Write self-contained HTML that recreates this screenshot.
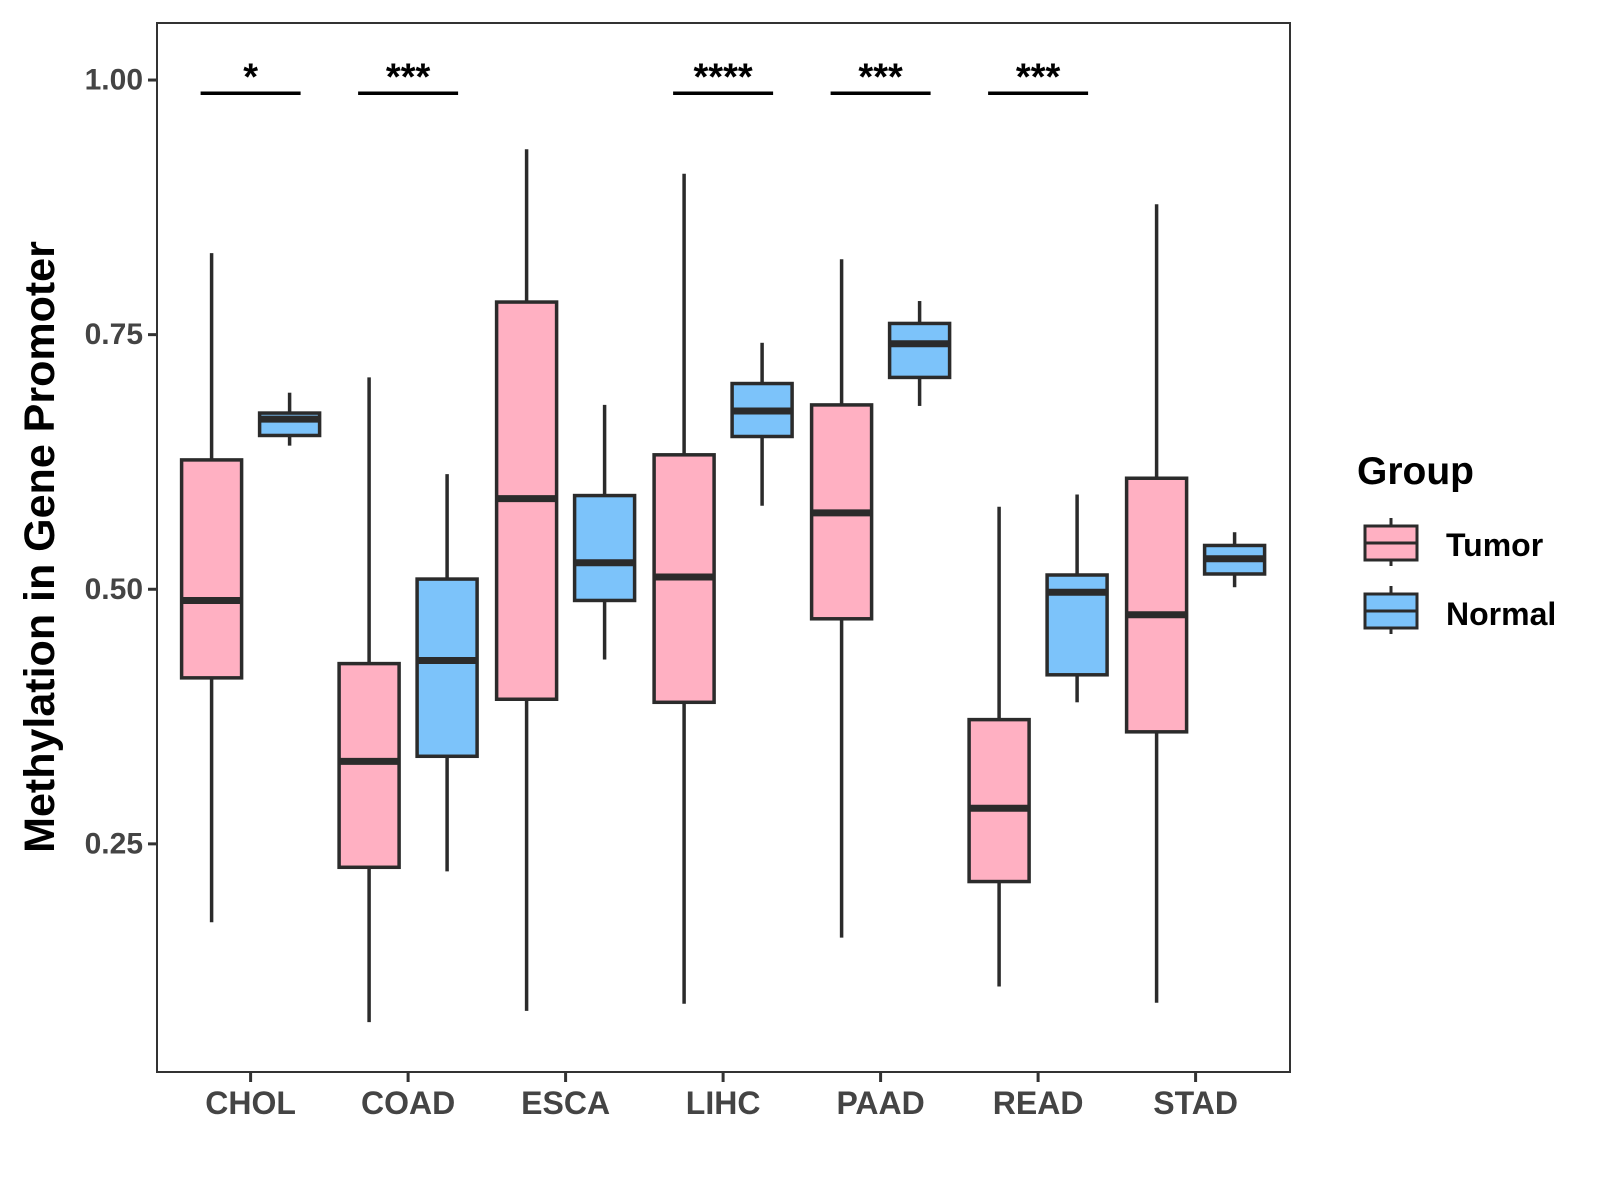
<!DOCTYPE html>
<html><head><meta charset="utf-8"><style>
html,body{margin:0;padding:0;background:#fff;}
svg{display:block;font-family:"Liberation Sans",Arial,sans-serif;}
</style></head><body>
<svg id="chart" width="1600" height="1200" viewBox="0 0 1600 1200" xmlns="http://www.w3.org/2000/svg">
  <rect x="0" y="0" width="1600" height="1200" fill="#fff"/>
  <g id="plot"></g>
  <text x="40" y="547" transform="rotate(-90 40 547)" text-anchor="middle" dominant-baseline="central" font-size="43" font-weight="bold" fill="#000">Methylation in Gene Promoter</text>
  <g>
    <text x="1357" y="484" font-size="39" font-weight="bold" fill="#000">Group</text>
    <g>
      <line x1="1391" y1="518" x2="1391" y2="566" stroke="#2b2b2b" stroke-width="3"/>
      <rect x="1365" y="526" width="52" height="34" fill="#ffb0c2" stroke="#2b2b2b" stroke-width="3"/>
      <line x1="1365" y1="543" x2="1417" y2="543" stroke="#2b2b2b" stroke-width="3"/>
      <text x="1446" y="556" font-size="32" font-weight="bold" fill="#000">Tumor</text>
    </g>
    <g>
      <line x1="1391" y1="586" x2="1391" y2="634" stroke="#2b2b2b" stroke-width="3"/>
      <rect x="1365" y="594" width="52" height="34" fill="#7cc3fa" stroke="#2b2b2b" stroke-width="3"/>
      <line x1="1365" y1="611" x2="1417" y2="611" stroke="#2b2b2b" stroke-width="3"/>
      <text x="1446" y="625" font-size="32" font-weight="bold" fill="#000">Normal</text>
    </g>
  </g>
</svg>
<script>
const categories = ["CHOL","COAD","ESCA","LIHC","PAAD","READ","STAD"];
// [lowWhisker, q1, median, q3, highWhisker]
const tumorStats = [
  [0.173,0.413,0.489,0.627,0.830],
  [0.075,0.227,0.331,0.427,0.708],
  [0.086,0.392,0.589,0.782,0.932],
  [0.093,0.389,0.512,0.632,0.908],
  [0.158,0.471,0.575,0.681,0.824],
  [0.110,0.213,0.285,0.372,0.581],
  [0.094,0.360,0.475,0.609,0.878]
];
const normalStats = [
  [0.641,0.651,0.667,0.673,0.693],
  [0.223,0.336,0.430,0.510,0.613],
  [0.431,0.489,0.526,0.592,0.681],
  [0.582,0.650,0.675,0.702,0.742],
  [0.680,0.708,0.741,0.761,0.783],
  [0.389,0.416,0.497,0.514,0.593],
  [0.502,0.515,0.530,0.543,0.556]
];
const sigLabels = ["*","***","","****","***","***",""];
const yTicks = [0.25,0.50,0.75,1.00];
const yTickLabels = ["0.25","0.50","0.75","1.00"];

const NS="http://www.w3.org/2000/svg";
const L=157,R=1290,T=23,B=1072;
const yMin=0.026,yMax=1.056;
function yS(v){return B-(v-yMin)/(yMax-yMin)*(B-T);}
const x0=250.6,step=157.5;
function xS(i){return x0+i*step;}
const g=document.getElementById('plot');
function mk(tag,attrs,parent){const e=document.createElementNS(NS,tag);for(const k in attrs)e.setAttribute(k,attrs[k]);(parent||g).appendChild(e);return e;}

const border=mk('rect',{x:L,y:T,width:R-L,height:B-T,fill:'none',stroke:'#333',"stroke-width":2});



yTicks.forEach((v,i)=>{
  const y=yS(v);
  const t=mk('line',{x1:L-9,x2:L,y1:y,y2:y,stroke:'#333',"stroke-width":3});
  
  
  const tx=mk('text',{x:L-14,y:y,"text-anchor":'end',"dominant-baseline":'central',"font-size":30,"font-weight":'bold',fill:'#444'});
  tx.textContent=yTickLabels[i];
  
  
});

const off=39,bw=60;
function drawBox(cx,s,fill,name){
  const grp=mk('g',{});
  
  
  mk('line',{x1:cx,x2:cx,y1:yS(s[4]),y2:yS(s[3]),stroke:'#2b2b2b',"stroke-width":3.5},grp);
  mk('line',{x1:cx,x2:cx,y1:yS(s[1]),y2:yS(s[0]),stroke:'#2b2b2b',"stroke-width":3.5},grp);
  mk('rect',{x:cx-bw/2,y:yS(s[3]),width:bw,height:yS(s[1])-yS(s[3]),fill:fill,stroke:'#2b2b2b',"stroke-width":3.5},grp);
  mk('line',{x1:cx-bw/2,x2:cx+bw/2,y1:yS(s[2]),y2:yS(s[2]),stroke:'#2b2b2b',"stroke-width":7},grp);
}
categories.forEach((c,i)=>{
  const cx=xS(i);
  drawBox(cx-off,tumorStats[i],'#ffb0c2','box-tumor-'+c.toLowerCase());
  drawBox(cx+off,normalStats[i],'#7cc3fa','box-normal-'+c.toLowerCase());
  const t=mk('line',{x1:cx,x2:cx,y1:B,y2:B+10,stroke:'#333',"stroke-width":3});
  
  
  const tx=mk('text',{x:cx,y:1114,"text-anchor":'middle',"font-size":32,"font-weight":'bold',fill:'#444'});
  tx.textContent=c;
  
  
  if(sigLabels[i]){
    const sy=yS(0.987);
    const bl=mk('line',{x1:cx-50,x2:cx+50,y1:sy,y2:sy,stroke:'#000',"stroke-width":3.5});
    
    
    const st=mk('text',{x:cx,y:sy-4,"text-anchor":'middle',"font-size":38,"font-weight":'bold',fill:'#000'});
    st.textContent=sigLabels[i];
    
    
  }
});
</script>
</body></html>
